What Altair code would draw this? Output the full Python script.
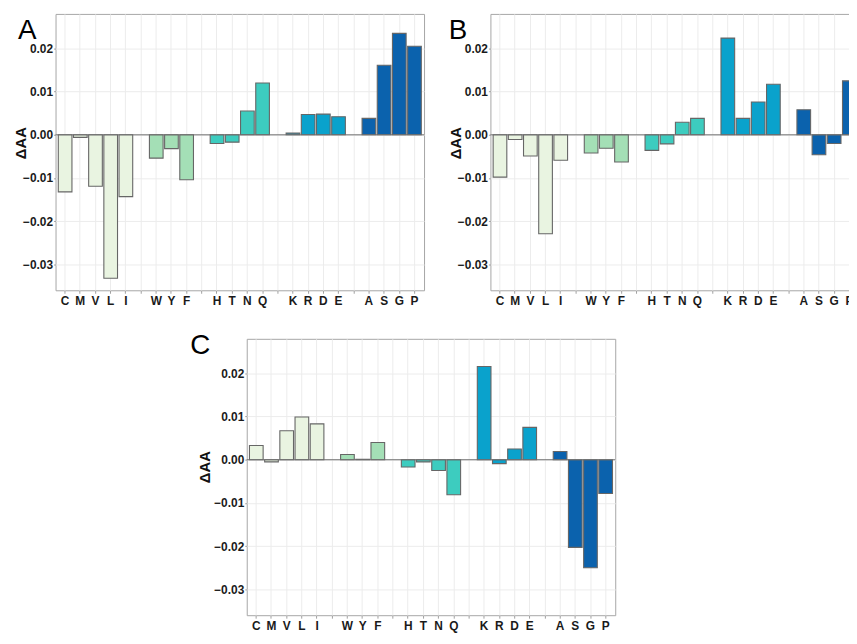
import altair as alt
import pandas as pd

order = ["C", "M", "V", "L", "I", "gap1", "W", "Y", "F", "gap2",
         "H", "T", "N", "Q", "gap3", "K", "R", "D", "E", "gap4",
         "A", "S", "G", "P"]
aas = ["C", "M", "V", "L", "I", "W", "Y", "F", "H", "T", "N", "Q",
       "K", "R", "D", "E", "A", "S", "G", "P"]
groups = ["g1"] * 5 + ["g2"] * 3 + ["g3"] * 4 + ["g4"] * 4 + ["g5"] * 4
group_names = ["g1", "g2", "g3", "g4", "g5"]
group_colors = ["#e9f4e1", "#a4dfb6", "#3dccbf", "#0aa2cc", "#0b62ad"]

vals_A = [-0.0132, -0.0006, -0.0119, -0.0332, -0.0143,
          -0.0054, -0.0032, -0.0104,
          -0.0020, -0.0017, 0.0055, 0.0120,
          0.0004, 0.0047, 0.0048, 0.0042,
          0.0038, 0.0161, 0.0235, 0.0205]
vals_B = [-0.0098, -0.0011, -0.0049, -0.0229, -0.0059,
          -0.0042, -0.0031, -0.0063,
          -0.0036, -0.0021, 0.0029, 0.0038,
          0.0224, 0.0038, 0.0076, 0.0117,
          0.0058, -0.0046, -0.0020, 0.0125]
vals_C = [0.0033, -0.0005, 0.0067, 0.0099, 0.0083,
          0.0012, 0.0001, 0.0040,
          -0.0017, -0.0005, -0.0025, -0.0081,
          0.0216, -0.0009, 0.0025, 0.0075,
          0.0019, -0.0203, -0.0250, -0.0078]
y_ticks = [-0.03, -0.02, -0.01, 0.0, 0.01, 0.02]

FONT = "Liberation Sans"
W, H = 372, 279


def panel(vals, letter, lx, ly, title_x, title_y):
    df = pd.DataFrame({"aa": aas, "value": vals, "group": groups})
    bars = alt.Chart(df).mark_bar(stroke="#666666", strokeWidth=1.1).encode(
        x=alt.X("aa:N", sort=order,
                scale=alt.Scale(domain=order, paddingInner=0.1, paddingOuter=0.18),
                axis=alt.Axis(title=None, labelAngle=0,
                              labelExpr="length(datum.value) > 1 ? '' : datum.value")),
        y=alt.Y("value:Q",
                scale=alt.Scale(domain=[-0.036, 0.028], nice=False, zero=False),
                axis=alt.Axis(values=y_ticks, format=".2f", title="ΔAA",
                              titleX=title_x, titleY=title_y)),
        y2=alt.datum(0),
        color=alt.Color("group:N", scale=alt.Scale(domain=group_names, range=group_colors),
                        legend=None),
    )
    rule = alt.Chart(pd.DataFrame({"z": [0.0]})).mark_rule(
        color="#6e6e6e", strokeWidth=1).encode(y=alt.Y("z:Q"))
    lab = alt.Chart(pd.DataFrame({"t": [letter]})).mark_text(
        font=FONT, fontSize=28, align="left", baseline="alphabetic", color="black"
    ).encode(x=alt.value(lx), y=alt.value(ly), text="t:N")
    return alt.layer(bars, rule, lab).properties(width=W, height=H)


pA = panel(vals_A, "A", -38, 25, -27, 130)
pB = panel(vals_B, "B", -42, 25, -27, 130)
pC = panel(vals_C, "C", -57, 15, -35, 129)

spacer = alt.Chart(pd.DataFrame({"s": [0]})).mark_rule(opacity=0).encode(
    x=alt.value(0), x2=alt.value(10), y=alt.value(5)
).properties(width=134, height=10, view=alt.ViewBackground(stroke="transparent"))

top = alt.hconcat(pA, pB, spacing=23)
bottom = alt.hconcat(spacer, pC, spacing=0)

chart = alt.vconcat(top, bottom, spacing=24).properties(
    padding={"left": 5, "top": 2, "right": -11, "bottom": -2},
).configure_view(stroke="#a6a6a6", strokeWidth=1).configure_axis(
    grid=True, gridColor="#ececec", gridWidth=1, domain=False,
    tickColor="#a0a0a0", tickWidth=1,
    labelFont=FONT, labelFontWeight="bold", labelFontSize=12, labelColor="#1a1a1a",
    titleFont=FONT, titleFontWeight="bold", titleFontSize=15, titleColor="#111111",
).configure_axisX(tickSize=3, labelPadding=2).configure_axisY(tickSize=2, labelPadding=1)

chart.save("out.html", embed_options={"renderer": "svg", "actions": False})
